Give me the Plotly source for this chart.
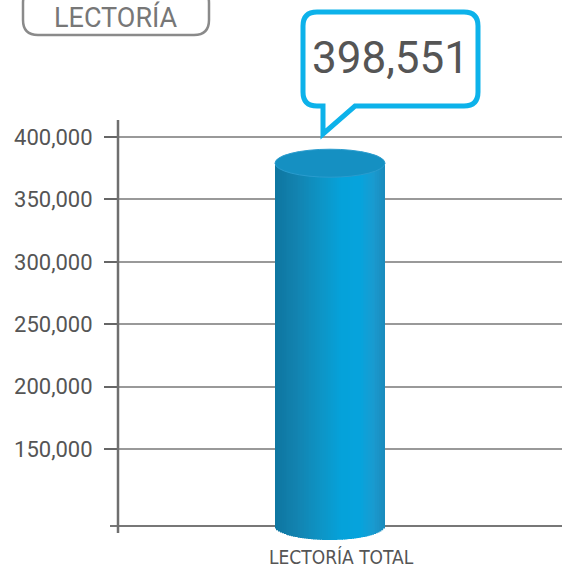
import numpy as np
import plotly.graph_objects as go

# Datos
categorias = ["LECTORÍA TOTAL"]
lectoria = [398551]
altura_cilindro = [379000]  # altura del cilindro, leída sobre el eje
ticks_y = [150000, 200000, 250000, 300000, 350000, 400000]
titulo = "LECTORÍA"

# Geometría de la figura (pixeles)
W, H = 562, 572
L, R, T, B = 118, 0, 118, 30
pw, ph = W - L - R, H - T - B
px_por_unidad = 312 / 250000  # 400k -> y=137, 150k -> y=449


def y_val(py):
    return 400000 + (137 - py) / px_por_unidad


def xp(px):
    return (px - L) / pw


def yp(py):
    return (H - B - py) / ph


def ruta(puntos):
    # puntos: lista de (comando, [(x, y), ...]) en pixeles -> path en papel
    s = ""
    for cmd, pts in puntos:
        s += cmd + " " + " ".join(f"{xp(x):.5f},{yp(y):.5f}" for x, y in pts) + " "
    return s + "Z"


fuente = "Roboto, Liberation Sans, sans-serif"
base_linea = y_val(526)
ry = 14 / px_por_unidad
ancho = 0.6

# Cilindro en rebanadas para el degradado horizontal
n = 60
bordes = np.linspace(-ancho / 2, ancho / 2, n + 1)
centros = (bordes[:-1] + bordes[1:]) / 2
u = (centros - bordes[0]) / ancho
paradas = [0.0, 0.2, 0.45, 0.6, 0.78, 0.9, 1.0]
colores = ["#0e76a0", "#1383b0", "#0d97c9", "#05a2da", "#07a4dd", "#1a9bd0", "#1a8bbd"]
rgb = np.array([[int(c[i:i + 2], 16) for i in (1, 3, 5)] for c in colores])
cols = [
    "rgb({},{},{})".format(*[int(np.interp(v, paradas, rgb[:, k])) for k in range(3)])
    for v in u
]
bases = base_linea - ry * np.sqrt(np.clip(1 - (2 * u - 1) ** 2, 0, 1))

fig = go.Figure()
fig.add_trace(go.Bar(
    x=list(centros),
    y=[altura_cilindro[0] - b for b in bases],
    base=bases,
    width=ancho / n,
    marker=dict(color=cols, line=dict(width=0)),
    name=categorias[0],
    hoverinfo="skip",
    showlegend=False,
))

# Tapa superior del cilindro
fig.add_shape(type="circle", xref="x", yref="y",
              x0=-ancho / 2, x1=ancho / 2,
              y0=altura_cilindro[0] - ry, y1=altura_cilindro[0] + ry,
              fillcolor="#1590c2", line=dict(color="#2a9cce", width=1), layer="above")

# Línea base y eje vertical
fig.add_shape(type="line", xref="paper", yref="y", x0=xp(110), x1=1,
              y0=base_linea, y1=base_linea, line=dict(color="#777777", width=2), layer="below")
fig.add_shape(type="line", xref="paper", yref="paper", x0=0, x1=0,
              y0=yp(120), y1=yp(533), line=dict(color="#6f6f6f", width=2.5))

# Globo con el total
x0, x1, y0, y1, r = 303, 478, 12, 106, 14
globo = ruta([
    ("M", [(x0 + r, y0)]), ("L", [(x1 - r, y0)]), ("Q", [(x1, y0), (x1, y0 + r)]),
    ("L", [(x1, y1 - r)]), ("Q", [(x1, y1), (x1 - r, y1)]),
    ("L", [(355, y1)]), ("L", [(323, 134)]), ("L", [(323, y1)]),
    ("L", [(x0 + r, y1)]), ("Q", [(x0, y1), (x0, y1 - r)]),
    ("L", [(x0, y0 + r)]), ("Q", [(x0, y0), (x0 + r, y0)]),
])
fig.add_shape(type="path", xref="paper", yref="paper", path=globo,
              fillcolor="white", line=dict(color="#0db2ea", width=5))

# Recuadro del título
a0, a1, b0, b1, r2 = 23, 209, -12, 35, 15
pastilla = ruta([
    ("M", [(a0 + r2, b0)]), ("L", [(a1 - r2, b0)]), ("Q", [(a1, b0), (a1, b0 + r2)]),
    ("L", [(a1, b1 - r2)]), ("Q", [(a1, b1), (a1 - r2, b1)]),
    ("L", [(a0 + r2, b1)]), ("Q", [(a0, b1), (a0, b1 - r2)]),
    ("L", [(a0, b0 + r2)]), ("Q", [(a0, b0), (a0 + r2, b0)]),
])
fig.add_shape(type="path", xref="paper", yref="paper", path=pastilla,
              fillcolor="rgba(0,0,0,0)", line=dict(color="#8a8a8a", width=2.5))

txt = dict(xref="paper", yref="paper", showarrow=False, xanchor="center", yanchor="middle")
fig.add_annotation(x=xp(390), y=yp(58), text=f"{lectoria[0]:,}",
                   font=dict(family=fuente, size=44, color="#555555"), **txt)
fig.add_annotation(x=xp(116), y=yp(18), text=titulo,
                   font=dict(family=fuente, size=27, color="#777777"), **txt)
fig.add_annotation(x=xp(341), y=yp(557), text=categorias[0],
                   font=dict(family="DejaVu Sans Condensed, Roboto", size=19,
                             color="#555555"), **txt)

fig.update_layout(
    width=W, height=H,
    margin=dict(l=L, r=R, t=T, b=B),
    paper_bgcolor="white", plot_bgcolor="white",
    font=dict(family=fuente, color="#555555"),
    showlegend=False,
    xaxis=dict(range=[(L - 330) / (110 / ancho), (W - 330) / (110 / ancho)],
               showgrid=False, zeroline=False, showline=False,
               showticklabels=False, ticks=""),
    yaxis=dict(range=[y_val(H - B), y_val(T)],
               tickvals=ticks_y, ticktext=[f"{v:,}" for v in ticks_y],
               showgrid=True, gridcolor="#999999", gridwidth=1.5,
               zeroline=False, showline=False,
               ticks="outside", ticklen=13, tickwidth=2, tickcolor="#666666",
               ticklabelstandoff=7,
               tickfont=dict(family=fuente, size=22, color="#555555")),
)

fig.write_html("out.html", config={"displayModeBar": False},
               post_script="document.body.style.margin='0';")
